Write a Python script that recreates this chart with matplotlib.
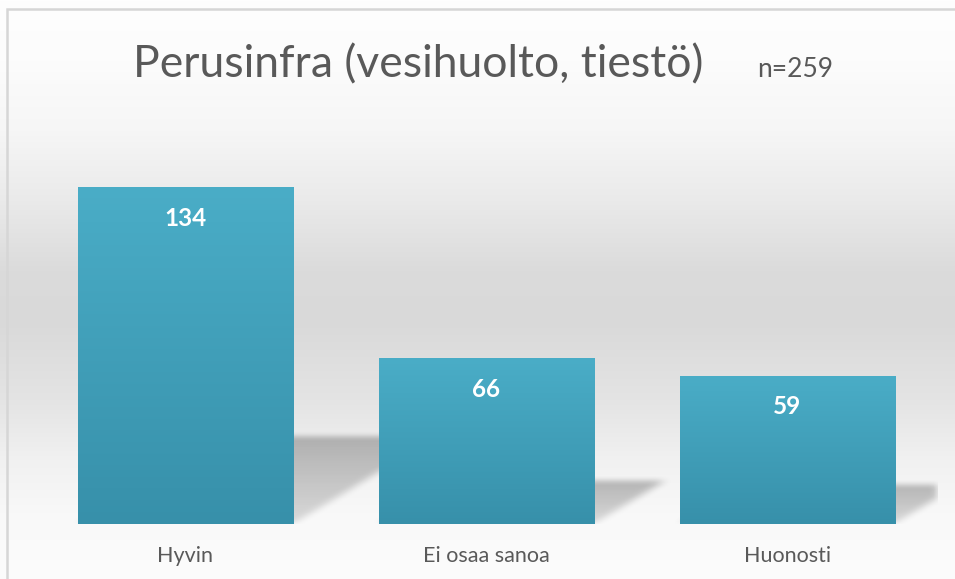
import numpy as np
import matplotlib
matplotlib.use("Agg")
import matplotlib.pyplot as plt
from matplotlib.patches import Rectangle
from matplotlib.colors import LinearSegmentedColormap

categories = ["Hyvin", "Ei osaa sanoa", "Huonosti"]
values = [134, 66, 59]
title = "Perusinfra (vesihuolto, tiestö)"
n_label = "n=259"

plt.rcParams['font.family'] = ['Lato', 'DejaVu Sans']

W, H = 955, 579
fig = plt.figure(figsize=(W / 100, H / 100), dpi=100)

# background gradient
bg = fig.add_axes([0, 0, 1, 1], zorder=-10)
ys = np.array([0, 60, 130, 200, 270, 320, 400, 460, 520, 579])
gs = np.array([254, 252, 246, 234, 219, 217, 228, 241, 249, 252])
yy = np.arange(H)
g = np.interp(yy, ys, gs) / 255.0
img = np.repeat(g[:, None], 4, axis=1)
bg.imshow(np.dstack([img, img, img]), aspect='auto', extent=[0, 1, 0, 1], origin='upper')
bg.set_xlim(0, 1); bg.set_ylim(0, 1)
bg.axis('off')
bg.add_patch(Rectangle((7 / W, -0.1), 1.2, 1 - 9.5 / H + 0.1, transform=bg.transAxes,
                       fill=False, edgecolor='#d6d6d6', lw=1.8))

# main axes
ymax = 160
ax = fig.add_axes([35 / W, (H - 524) / H, 902.5 / W, (ymax * 2.515) / H])
ax.patch.set_alpha(0)
x = np.arange(len(categories))
bw = 0.715
ax.set_xlim(-0.5, len(categories) - 0.5)
ax.set_ylim(0, ymax)

# shadows (computed on a grid in data space, blurred)
nx, ny = 900, 400
gx = np.linspace(-0.5, len(categories) - 0.5, nx)
gy = np.linspace(0, ymax, ny)
GX, GY = np.meshgrid(gx, gy)
mask = np.zeros_like(GX)
dens = np.zeros_like(GX)
for xi, v in zip(x, values):
    hs = 0.26 * v
    dx = 0.0115 * hs * 1.2
    frac = np.clip(GY / hs, 0, 1)
    left = xi - bw / 2 + dx * frac
    right = xi + bw / 2 + dx * frac
    m = (GY <= hs) & (GX >= left) & (GX <= right)
    mask = np.maximum(mask, m.astype(float))
    dens = np.where(m, np.maximum(dens, 0.5 + 0.5 * frac), dens)

def box_blur(a, k, axis):
    kern = np.ones(k) / k
    return np.apply_along_axis(lambda r: np.convolve(r, kern, mode='same'), axis, a)

sh = mask * dens
sh = box_blur(box_blur(sh, 7, 0), 13, 1)
sh = box_blur(box_blur(sh, 5, 0), 9, 1)
alpha = np.clip(sh * 0.26, 0, 1)
rgba = np.zeros((ny, nx, 4))
rgba[..., 3] = alpha
ax.imshow(rgba, extent=[-0.5, len(categories) - 0.5, 0, ymax], origin='lower',
          aspect='auto', zorder=1, interpolation='bilinear')

# bars with vertical gradient
bar_cmap = LinearSegmentedColormap.from_list('b', ['#3790aa', '#4aadc7'])
bars = ax.bar(x, values, width=bw, color='#42a0ba', zorder=2, linewidth=0)
for b in bars:
    grad = np.linspace(0, 1, 256)[:, None]
    im = ax.imshow(grad, cmap=bar_cmap, aspect='auto', origin='lower',
                   extent=[b.get_x(), b.get_x() + b.get_width(), 0, b.get_height()],
                   zorder=3)
    im.set_clip_path(b)
ax.set_xlim(-0.5, len(categories) - 0.5)
ax.set_ylim(0, ymax)

for xi, v in zip(x, values):
    ax.annotate(str(v), (xi, v), xytext=(0, -22.5), textcoords='offset points',
                ha='center', va='center', color='white', fontsize=17.5,
                fontweight='bold', zorder=5)

ax.set_xticks(x)
ax.set_xticklabels(categories, fontsize=15.5, color='#595959')
ax.tick_params(axis='x', length=0, pad=16)
ax.set_yticks([])
for s in ax.spines.values():
    s.set_visible(False)

fig.text(418 / W, 1 - 77 / H, title, ha='center', va='baseline',
         fontsize=32, color='#595959')
fig.text(757 / W, 1 - 77 / H, n_label, ha='left', va='baseline',
         fontsize=19, color='#595959')

fig.savefig('out.png', dpi=100)
